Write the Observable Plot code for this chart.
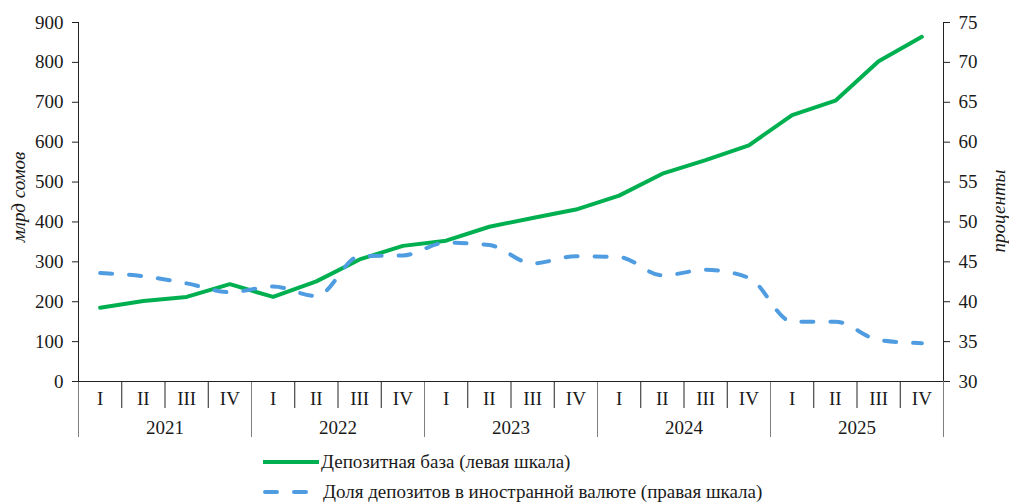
<!DOCTYPE html>
<html><head><meta charset="utf-8">
<script src="https://cdn.jsdelivr.net/npm/d3@7"></script>
<script src="https://cdn.jsdelivr.net/npm/@observablehq/plot@0.6"></script>
<style>
html,body{margin:0;padding:0;background:#fff;}
body{width:1009px;height:504px;overflow:hidden;font-family:"Liberation Serif","Times New Roman",serif;color:#1a1a1a;}
#chart{position:absolute;left:0;top:0;}
.leg{position:absolute;left:261px;height:22px;display:flex;align-items:center;font-size:19px;white-space:nowrap;line-height:22px;}
.leg svg{display:block;}
</style></head><body>
<div id="chart"></div>
<div class="leg" style="top:451px"><svg width="60" height="10"><line x1="2" y1="5" x2="58" y2="5" stroke="#00B050" stroke-width="4"/></svg><span style="margin-left:0px">Депозитная база (левая шкала)</span></div>
<div class="leg" style="top:481px"><svg width="62" height="10"><line x1="4" y1="5" x2="48" y2="5" stroke="#4F9DE0" stroke-width="4" stroke-linecap="round" stroke-dasharray="12,17"/></svg><span>Доля депозитов в иностранной валюте (правая шкала)</span></div>
<script>
const years = ["2021", "2022", "2023", "2024", "2025"];
const quarters = ["I", "II", "III", "IV"];
// Депозитная база, млрд сомов (левая шкала)
const depositBase = [185, 202, 212, 244, 212, 251, 306, 340, 353, 388, 410, 431, 466, 521, 555, 592, 668, 704, 803, 864];
// Доля депозитов в иностранной валюте, % (правая шкала)
const fxShare = [43.6, 43.2, 42.3, 41.2, 41.9, 40.7, 45.7, 45.8, 47.4, 47.1, 44.8, 45.7, 45.6, 43.3, 44.0, 43.0, 37.5, 37.5, 35.2, 34.8];
const leftTicks = [0, 100, 200, 300, 400, 500, 600, 700, 800, 900];
const rightTicks = [30, 35, 40, 45, 50, 55, 60, 65, 70, 75];

const rightMin = 30, rightMax = 75, leftMax = 900;
const toLeft = v => (v - rightMin) * leftMax / (rightMax - rightMin);
const fromLeft = v => v * (rightMax - rightMin) / leftMax + rightMin;

const rows = years.flatMap((y, yi) => quarters.map((q, qi) => {
  const i = yi * 4 + qi;
  return {i, year: y, q, dep: depositBase[i], fx: fxShare[i]};
}));
const n = rows.length;
const quarterBounds = d3.range(1, n).filter(k => k % 4 !== 0);
const yearBounds = d3.range(0, n + 1, 4);

const chart = Plot.plot({
  width: 1009, height: 445,
  marginTop: 22, marginBottom: 64, marginLeft: 78, marginRight: 66,
  style: {fontFamily: "Liberation Serif, Times New Roman, serif", fontSize: "19px", color: "#1a1a1a", background: "white", overflow: "visible"},
  x: {type: "linear", domain: [0, n], axis: null, label: null},
  y: {domain: [0, leftMax], axis: null, label: null},
  marks: [
    Plot.axisX(yearBounds, {tickSize: 56, tickFormat: () => "", stroke: "#7f7f7f", label: null}),
    Plot.axisX(quarterBounds, {tickSize: 27, tickFormat: () => "", stroke: "#222", label: null}),
    Plot.axisX(rows.map(d => d.i + 0.5), {tickSize: 0, tickPadding: 10, tickFormat: d => quarters[Math.floor(d) % 4], label: null}),
    Plot.axisX(years.map((y, k) => k * 4 + 2), {tickSize: 0, tickPadding: 39, tickFormat: d => years[(d - 2) / 4], label: null}),
    Plot.axisY(leftTicks, {anchor: "left", tickSize: 6, tickPadding: 9, stroke: "#222", label: null}),
    Plot.axisY(rightTicks.map(toLeft), {anchor: "right", tickSize: 6, tickPadding: 9, stroke: "#222", tickFormat: d => String(Math.round(fromLeft(d))), label: null}),
    Plot.ruleY([0], {stroke: "#222"}),
    Plot.ruleX([0, n], {stroke: "#222"}),
    Plot.line(rows, {x: d => d.i + 0.5, y: "dep", stroke: "#00B050", strokeWidth: 4, strokeLinejoin: "round"}),
    Plot.line(rows, {x: d => d.i + 0.5, y: d => toLeft(d.fx), stroke: "#4F9DE0", strokeWidth: 4, strokeDasharray: "12,17", strokeLinecap: "round", curve: "monotone-x"}),
    Plot.text(["млрд сомов"], {frameAnchor: "left", textAnchor: "middle", rotate: -90, dx: -60, dy: -5, fontStyle: "italic", fill: "#1a1a1a"}),
    Plot.text(["проценты"], {frameAnchor: "right", textAnchor: "middle", rotate: -90, dx: 55, dy: 9, fontStyle: "italic", fill: "#1a1a1a"})
  ]
});
document.getElementById("chart").appendChild(chart);
</script>
</body></html>
